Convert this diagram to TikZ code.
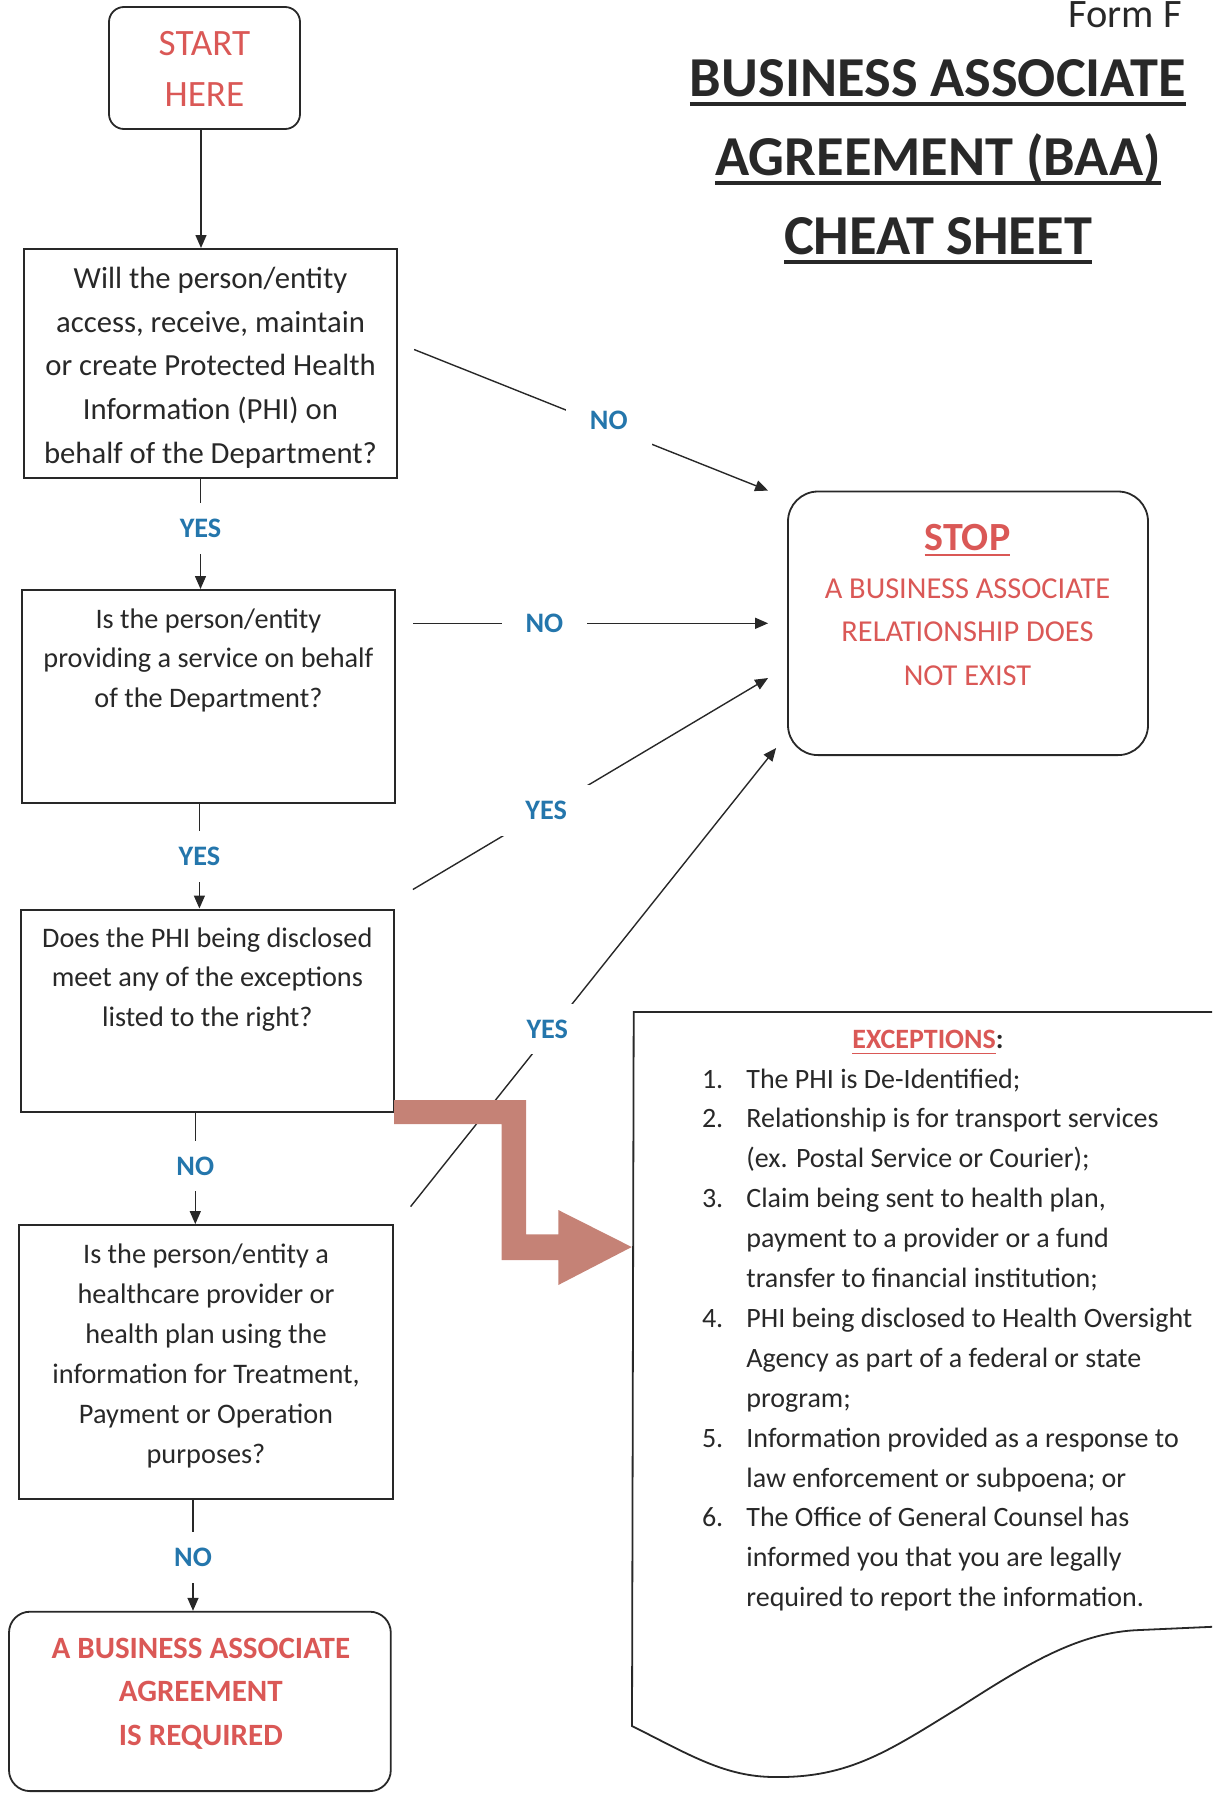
\documentclass[tikz,border=0pt]{standalone}
\usepackage{fontspec}
\setmainfont{Carlito}
\usetikzlibrary{arrows.meta}

\definecolor{lblblue}{RGB}{36,118,172}
\definecolor{txtred}{RGB}{218,88,86}
\definecolor{zigred}{RGB}{197,130,118}
\definecolor{inkgray}{RGB}{40,40,40}

\newcommand\lines[1]{\begin{tabular}[t]{@{}c@{}}#1\end{tabular}}
\newcommand\ulword[3]{\setbox0\hbox{#1}\rlap{\rule[-#2]{\wd0}{#3}}\box0}

\tikzset{
  qbox/.style={draw=inkgray, line width=1pt, minimum width=186.6pt},
  endbox/.style={draw=inkgray, line width=0.9pt, rounded corners=10pt},
  qtext/.style={inner sep=0pt, anchor=base, text=inkgray, font=\fontsize{14.15}{19.8}\selectfont},
  lbl/.style={fill=white, inner xsep=12pt, inner ysep=8pt, text=lblblue, font=\fontsize{14.1}{16}\selectfont\bfseries},
  arr/.style={draw=inkgray, line width=0.7pt, -{Triangle[length=6.5pt,width=5.5pt]}},
}

\begin{document}
\begin{tikzpicture}[x=0.5pt, y=-0.5pt]
\useasboundingbox (0,0) rectangle (1212,1794);
\clip (0,0) rectangle (1212,1794);

% header
\node[inner sep=0pt, anchor=base east, text=inkgray, font=\fontsize{20.2}{24}\selectfont] (formid) at (1182,27) {Form F};
\node[qtext, font=\fontsize{28.2}{39.5}\selectfont\bfseries] (title) at (938,96.7)
  {\lines{\ulword{BUSINESS ASSOCIATE}{4.5pt}{2pt}\\ \ulword{AGREEMENT (BAA)}{4.5pt}{2pt}\\ \ulword{CHEAT SHEET}{4.5pt}{2pt}}};

% flow boxes
\node[endbox, rounded corners=7.5pt, minimum width=95.5pt, minimum height=61pt] (start) at (204.5,68) {};
\node[qtext, text=txtred, font=\fontsize{18.6}{25.5}\selectfont] (starttxt) at (204.5,55) {\lines{START\\HERE}};

\node[qbox, minimum height=114.5pt] (q1) at (210.5,363.5) {};
\node[qtext, font=\fontsize{15.35}{21.85}\selectfont] (q1txt) at (210.5,288.5)
  {\lines{Will the person/entity\\access, receive, maintain\\or create Protected Health\\Information (PHI) on\\behalf of the Department?}};

\node[qbox, minimum height=106.5pt] (q2) at (208.4,696.5) {};
\node[qtext, font=\fontsize{14.15}{19.75}\selectfont] (q2txt) at (208.4,628)
  {\lines{Is the person/entity\\providing a service on behalf\\of the Department?}};

\node[qbox, minimum height=101pt] (q3) at (207.3,1010.5) {};
\node[qtext, font=\fontsize{14.15}{19.75}\selectfont] (q3txt) at (207.3,947)
  {\lines{Does the PHI being disclosed\\meet any of the exceptions\\listed to the right?}};

\node[qbox, minimum height=136.9pt] (q4) at (206,1362) {};
\node[qtext, font=\fontsize{14.15}{20}\selectfont] (q4txt) at (206,1263)
  {\lines{Is the person/entity a\\healthcare provider or\\health plan using the\\information for Treatment,\\Payment or Operation\\purposes?}};

\node[endbox, rounded corners=10.5pt, minimum width=190.9pt, minimum height=89.7pt] (baa) at (199.9,1701.4) {};
\node[qtext, text=txtred, font=\fontsize{15.5}{21.7}\selectfont\bfseries] (baatxt) at (200.8,1658.3)
  {\lines{A BUSINESS ASSOCIATE\\AGREEMENT\\IS REQUIRED}};

\node[endbox, rounded corners=15pt, minimum width=180pt, minimum height=131.8pt] (stop) at (968,623.3) {};
\node[qtext, text=txtred, font=\fontsize{20}{24}\selectfont\bfseries] (stoptxt) at (967.5,550.4) {\ulword{STOP}{2.8pt}{1pt}};
\node[qtext, text=txtred, font=\fontsize{15.2}{21.6}\selectfont] (stopmsg) at (967.5,598.7)
  {\lines{A BUSINESS ASSOCIATE\\RELATIONSHIP DOES\\NOT EXIST}};

% connectors
\draw[arr] ([shift={(-3.5,0)}]start.south) -- ([shift={(-3.5,0)}]start.south |- q1.north);
\draw[arr] ([shift={(-10,0)}]q1.south) -- node[lbl, pos=0.45] {YES} ([shift={(-10,0)}]q1.south |- q2.north);
\draw[arr] ([shift={(-9,0)}]q2.south) -- node[lbl] {YES} ([shift={(-9,0)}]q2.south |- q3.north);
\draw[arr] ([shift={(-12,0)}]q3.south) -- node[lbl, pos=0.48] {NO} ([shift={(-12,0)}]q3.south |- q4.north);
\draw[arr] ([shift={(-13,0)}]q4.south) -- node[lbl, pos=0.52] {NO} ([shift={(-13,0)}]q4.south |- baa.north);

\draw[arr] ([shift={(16,-14)}]q1.east) -- node[lbl, pos=0.55, yshift=3.5pt] {NO} ([shift={(-19,0)}]stop.north west);
\draw[arr] ([shift={(17,0)}]q2.east |- stop.west) -- node[lbl, pos=0.37] {NO} ([shift={(-19,0)}]stop.west);
\draw[arr] ([shift={(18,-19)}]q3.north east) -- node[lbl, pos=0.375] {YES} ([shift={(-19,-78)}]stop.south west);
\draw[arr] ([shift={(17,-17.5)}]q4.north east) -- node[lbl, pos=0.374, yshift=3pt] {YES} ([shift={(-11,-8)}]stop.south west);

% exceptions sheet
\draw[draw=inkgray, line width=0.9pt] (1230,1012) -- (633.7,1012) -- (632,1726)
  .. controls (690,1755) and (725,1777) .. (775,1777)
  .. controls (850,1778) and (890,1750) .. (960,1707)
  .. controls (1030,1662) and (1080,1632) .. (1140,1630) -- (1230,1626);
\node[qtext, font=\fontsize{14}{18}\selectfont\bfseries] (exhead) at (928,1048.3)
  {{\color{txtred}\ulword{EXCEPTIONS}{3pt}{0.8pt}}:};
\node[qtext, anchor=base west, font=\fontsize{14}{19.95}\selectfont] (exlist) at (701.6,1088)
  {\begin{tabular}[t]{@{}p{22.2pt}@{}l@{}}
  1. & The PHI is De-Identified;\\
  2. & Relationship is for transport services\\
     & (ex. Postal Service or Courier);\\
  3. & Claim being sent to health plan,\\
     & payment to a provider or a fund\\
     & transfer to financial institution;\\
  4. & PHI being disclosed to Health Oversight\\
     & Agency as part of a federal or state\\
     & program;\\
  5. & Information provided as a response to\\
     & law enforcement or subpoena; or\\
  6. & The Office of General Counsel has\\
     & informed you that you are legally\\
     & required to report the information.
  \end{tabular}};

% pointer to the exceptions
\fill[zigred] (394,1100) -- (526,1100) -- (526,1234.3) -- (558.3,1234.3) -- (558.3,1210) -- (631.7,1247)
  -- (558.3,1285) -- (558.3,1260) -- (501.7,1260) -- (501.7,1124) -- (394,1124) -- cycle;
\end{tikzpicture}
\end{document}
